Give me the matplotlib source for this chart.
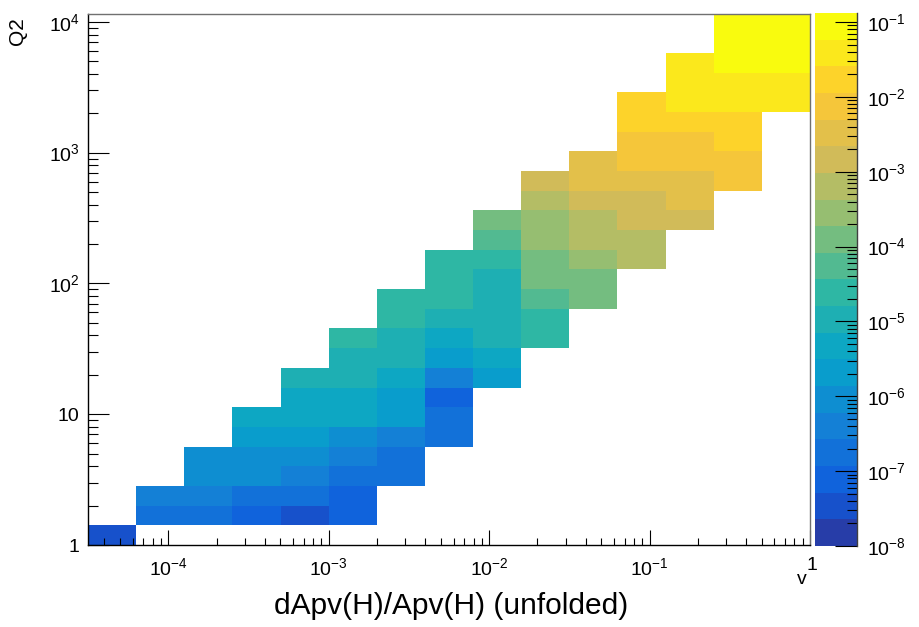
import numpy as np
import matplotlib
matplotlib.use("Agg")
import matplotlib.pyplot as plt
from matplotlib.colors import LinearSegmentedColormap, ListedColormap, LogNorm
from matplotlib.ticker import FixedLocator, NullFormatter

plt.rcParams['font.family'] = ['Liberation Sans', 'DejaVu Sans']
plt.rcParams['mathtext.fontset'] = 'custom'
plt.rcParams['mathtext.rm'] = 'Liberation Sans'
plt.rcParams['mathtext.it'] = 'Liberation Sans:italic'
plt.rcParams['mathtext.bf'] = 'Liberation Sans:bold'

# 2D histogram: 15 log bins in dApv/Apv, 27 log bins in Q2
n_xbins = 15
n_ybins = 27
x_edges = np.logspace(-4.5, 0.0, n_xbins + 1)
y_edges = np.sqrt(2.0) ** np.arange(n_ybins + 1)

# first filled x-bin of every Q2 row (bottom to top)
row_start = [0, 1, 1, 2, 2, 3, 3, 4, 4, 5, 5, 6, 6, 7, 7, 8, 8, 9, 9,
             10, 11, 11, 11, 12, 12, 13, 13]

# bin contents of every Q2 row, starting at row_start
row_values = [
    [3.4e-8],
    [1.8e-7, 1.8e-7, 7.8e-8, 3.4e-8, 7.8e-8],
    [4.0e-7, 4.0e-7, 1.8e-7, 1.8e-7, 7.8e-8],
    [9.1e-7, 9.1e-7, 4.0e-7, 1.8e-7, 1.8e-7],
    [9.1e-7, 9.1e-7, 9.1e-7, 4.0e-7, 1.8e-7],
    [2.1e-6, 2.1e-6, 9.1e-7, 4.0e-7, 1.8e-7],
    [4.7e-6, 4.7e-6, 4.7e-6, 2.1e-6, 1.8e-7],
    [4.7e-6, 4.7e-6, 2.1e-6, 7.8e-8],
    [1.1e-5, 1.1e-5, 4.7e-6, 4.0e-7, 2.1e-6],
    [1.1e-5, 1.1e-5, 2.1e-6, 4.7e-6],
    [2.4e-5, 1.1e-5, 4.7e-6, 1.1e-5, 2.4e-5],
    [2.4e-5, 1.1e-5, 1.1e-5, 2.4e-5],
    [2.4e-5, 2.4e-5, 1.1e-5, 5.4e-5, 1.2e-4],
    [2.4e-5, 1.1e-5, 1.2e-4, 1.2e-4],
    [2.4e-5, 2.4e-5, 1.2e-4, 2.8e-4, 6.4e-4],
    [5.4e-5, 2.8e-4, 6.4e-4, 6.4e-4],
    [1.2e-4, 2.8e-4, 6.4e-4, 1.4e-3, 1.4e-3],
    [6.4e-4, 1.4e-3, 1.4e-3, 3.3e-3],
    [1.4e-3, 3.3e-3, 3.3e-3, 3.3e-3, 7.4e-3],
    [3.3e-3, 7.4e-3, 7.4e-3, 7.4e-3],
    [7.4e-3, 7.4e-3, 1.7e-2],
    [1.7e-2, 1.7e-2, 1.7e-2],
    [1.7e-2, 3.8e-2, 3.8e-2, 3.8e-2],
    [3.8e-2, 3.8e-2, 3.8e-2],
    [3.8e-2, 8.7e-2, 8.7e-2],
    [8.7e-2, 8.7e-2],
    [8.7e-2, 8.7e-2],
]

z_min = 1e-8
z_max = 0.132

x_ticks = [1e-4, 1e-3, 1e-2, 1e-1, 1.0]
x_ticklabels = [r'$10^{-4}$', r'$10^{-3}$', r'$10^{-2}$', r'$10^{-1}$', '']
y_ticks = [1, 10, 100, 1000, 10000]
y_ticklabels = ['1', '10', r'$10^{2}$', r'$10^{3}$', r'$10^{4}$']
z_ticks = [1e-8, 1e-7, 1e-6, 1e-5, 1e-4, 1e-3, 1e-2, 1e-1]
z_ticklabels = [r'$10^{-%d}$' % k for k in range(8, 0, -1)]

# kBird style palette, sampled into 20 contour levels
bird_stops = [0.0, 0.125, 0.25, 0.375, 0.5, 0.625, 0.75, 0.875, 1.0]
bird_red = [0.2082, 0.0592, 0.0780, 0.0232, 0.1802, 0.5301, 0.8186, 0.9956, 0.9764]
bird_green = [0.1664, 0.3599, 0.5041, 0.6419, 0.7178, 0.7492, 0.7328, 0.7862, 0.9832]
bird_blue = [0.5293, 0.8684, 0.8385, 0.7914, 0.6425, 0.4662, 0.3499, 0.1968, 0.0539]
bird = LinearSegmentedColormap.from_list(
    'bird', list(zip(bird_stops, zip(bird_red, bird_green, bird_blue))), N=255)
n_levels = 20
level_colors = [bird(int((i + 0.99) * 255 / n_levels) / 254.0) for i in range(n_levels)]
cmap = ListedColormap(level_colors)
norm = LogNorm(vmin=z_min, vmax=z_max)

z = np.full((n_ybins, n_xbins), np.nan)
for row, (start, vals) in enumerate(zip(row_start, row_values)):
    z[row, start:start + len(vals)] = vals

W, H = 920, 627
fig = plt.figure(figsize=(W / 100, H / 100), dpi=100)
ax = fig.add_axes([88 / W, 1 - 545 / H, 722 / W, 531.5 / H])
cax = fig.add_axes([815 / W, 1 - 546 / H, 42 / W, 533 / H])

mesh = ax.pcolormesh(x_edges, y_edges, np.ma.masked_invalid(z), cmap=cmap,
                     norm=norm, antialiased=False, edgecolors='face', linewidth=0)
ax.set_xscale('log')
ax.set_yscale('log')
ax.set_xlim(x_edges[0], x_edges[-1])
ax.set_ylim(y_edges[0], y_edges[-1])

ax.xaxis.set_major_locator(FixedLocator(x_ticks))
ax.xaxis.set_minor_locator(FixedLocator(
    [m * 10.0 ** e for e in range(-5, 0) for m in range(2, 10)]))
ax.set_xticklabels(x_ticklabels)
ax.xaxis.set_minor_formatter(NullFormatter())
ax.yaxis.set_major_locator(FixedLocator(y_ticks))
ax.yaxis.set_minor_locator(FixedLocator(
    [m * 10.0 ** e for e in range(0, 5) for m in range(2, 10)]))
ax.set_yticklabels(y_ticklabels)
ax.yaxis.set_minor_formatter(NullFormatter())

ax.tick_params(axis='x', which='major', direction='in', length=10.8, width=0.8,
               pad=9, labelsize=14, top=False)
ax.tick_params(axis='x', which='minor', direction='in', length=5, width=0.8, top=False)
ax.tick_params(axis='y', which='major', direction='in', length=15, width=0.8,
               pad=6, labelsize=14, right=False)
ax.tick_params(axis='y', which='minor', direction='in', length=7.2, width=0.8, right=False)

for side in ('left', 'bottom'):
    ax.spines[side].set_color('black')
    ax.spines[side].set_linewidth(1.0)
for side in ('top', 'right'):
    ax.spines[side].set_color('#707070')
    ax.spines[side].set_linewidth(1.0)

# palette axis on the right
cbar = fig.colorbar(mesh, cax=cax)
cbar.outline.set_visible(False)
cax.set_yticks(z_ticks)
cax.set_yticklabels(z_ticklabels)
cax.yaxis.set_minor_locator(FixedLocator(
    [m * 10.0 ** e for e in range(-8, 0) for m in range(2, 10)]))
cax.yaxis.set_minor_formatter(NullFormatter())
cax.tick_params(axis='y', which='major', direction='in', length=15.6, width=0.8,
                pad=7, labelsize=14, right=True, left=False)
cax.tick_params(axis='y', which='minor', direction='in', length=7.2, width=0.8,
                right=True, left=False)
cax.plot([1, 1], [0, 1], transform=cax.transAxes, color='#404040', lw=1.0,
         clip_on=False)

# axis titles
fig.text(451 / W, 1 - 606 / H, 'dApv(H)/Apv(H) (unfolded)', fontsize=21.5,
         ha='center', va='center')
fig.text(18 / W, 1 - 31 / H, 'Q2', fontsize=15, rotation=90,
         ha='center', va='center')
fig.text(812 / W, 1 - 566 / H, '1', fontsize=14, ha='center', va='center')
fig.text(802 / W, 1 - 580 / H, 'v', fontsize=14, ha='center', va='center')

fig.savefig('out.png', dpi=100)
